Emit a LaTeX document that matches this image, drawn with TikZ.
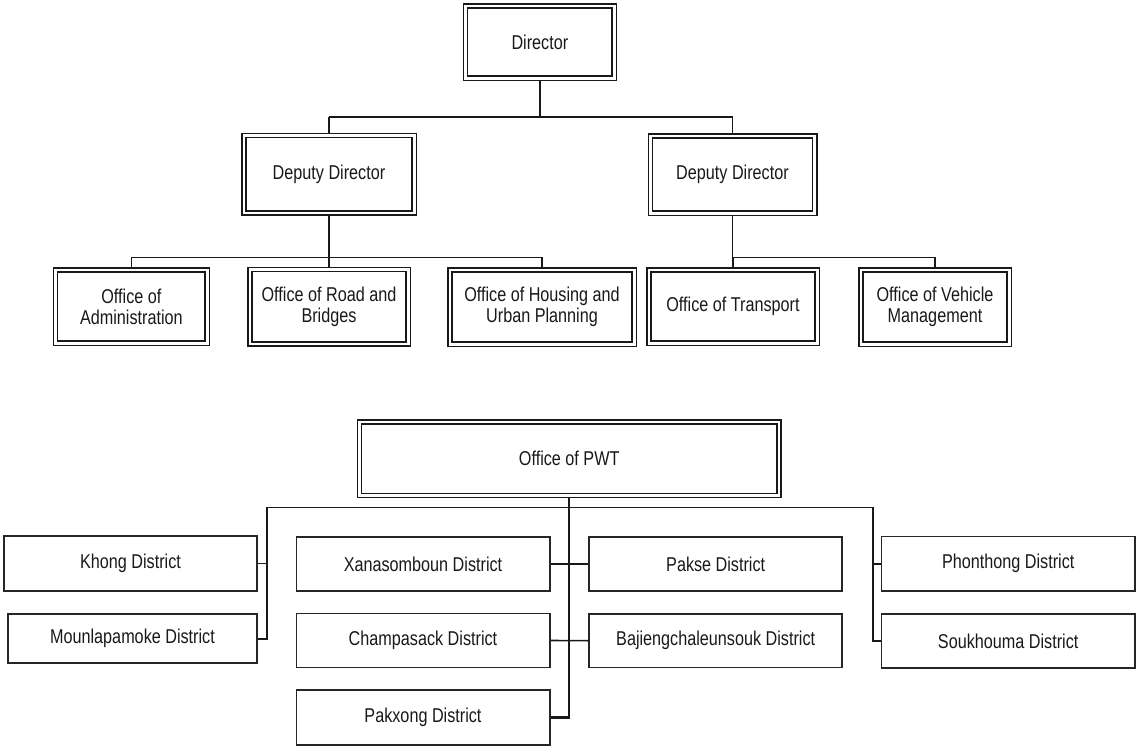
\documentclass[tikz,border=0pt]{standalone}
\usepackage{fontspec}
\setmainfont{Liberation Sans}[FakeStretch=0.81]
\usetikzlibrary{backgrounds}
\begin{document}
\begin{tikzpicture}[x=1pt,y=-1pt,
  txt/.style={inner sep=0pt, align=center, font=\fontsize{20}{20.5}\selectfont, text=black!90},
  dbox/.style={txt, draw=black!90, line width=1.5pt, double=white, double distance=2.6pt, fill=white},
  sbox/.style={txt, draw=black!85, line width=1.6pt, fill=white},
  conn/.style={draw=black!90, line width=1.6pt},
  trunk/.style={draw=black!90, line width=2.3pt}]
\useasboundingbox (0,0) rectangle (1136,747);

% top chart
\node[dbox, minimum width=148.7pt, minimum height=72.4pt] (dir) at (539.9,42) {Director};
\node[dbox, minimum width=170.4pt, minimum height=77.4pt] (dep1) at (329,174.2) {Deputy Director};
\node[dbox, minimum width=164.4pt, minimum height=77.4pt] (dep2) at (732.5,174.5) {Deputy Director};
\node[dbox, minimum width=151.7pt, minimum height=73.1pt] (adm) at (131.4,306.7) {Office of\\Administration};
\node[dbox, minimum width=158.4pt, minimum height=74.4pt] (road) at (329,306.7) {Office of Road and\\Bridges};
\node[dbox, minimum width=184.4pt, minimum height=74.4pt] (hous) at (542,307) {Office of Housing and\\Urban Planning};
\node[dbox, minimum width=168.4pt, minimum height=73.4pt] (trans) at (733,306.5) {Office of Transport};
\node[dbox, minimum width=148.4pt, minimum height=74.4pt] (veh) at (935,307) {Office of Vehicle\\Management};

% bottom chart
\node[dbox, minimum width=419.4pt, minimum height=73.4pt] (pwt) at (569.2,458.8) {Office of PWT};
\node[sbox, minimum width=252.8pt, minimum height=55.1pt] (khong) at (130.5,563.4) {Khong District};
\node[sbox, minimum width=248.8pt, minimum height=49.1pt] (moun) at (132.5,638.7) {Mounlapamoke District};
\node[sbox, minimum width=253.4pt, minimum height=54.4pt] (xana) at (423,564) {Xanasomboun District};
\node[sbox, minimum width=253.4pt, minimum height=54pt] (champ) at (423,640.5) {Champasack District};
\node[sbox, minimum width=253.4pt, minimum height=55.4pt] (pakx) at (423,717.5) {Pakxong District};
\node[sbox, minimum width=253.1pt, minimum height=54.4pt] (pakse) at (715.7,564) {Pakse District};
\node[sbox, minimum width=253.1pt, minimum height=53.9pt] (baj) at (715.7,640.7) {Bajiengchaleunsouk District};
\node[sbox, minimum width=253.4pt, minimum height=54.4pt] (phon) at (1008.2,563.7) {Phonthong District};
\node[sbox, minimum width=253.4pt, minimum height=54.1pt] (souk) at (1008.2,641.1) {Soukhouma District};

\coordinate (bus1) at (0,117);
\coordinate (bus2) at (0,257.3);
\coordinate (lv) at (266.7,507.3);
\coordinate (rv) at (872.7,507.3);

\begin{pgfonlayer}{background}
  % director level
  \draw[trunk] (dir.south) -- (dir.south |- bus1);
  \draw[conn] (dep1.north |- bus1) -- (dep2.north |- bus1);
  \draw[conn] (dep1.north |- bus1) -- (dep1.north);
  \draw[conn] (dep2.north |- bus1) -- (dep2.north);
  % deputy 1
  \draw[conn] (dep1.south) -- (dep1.south |- bus2);
  \draw[conn] (adm.north |- bus2) -- (hous.north |- bus2);
  \draw[conn] (adm.north |- bus2) -- (adm.north);
  \draw[conn] (road.north |- bus2) -- (road.north);
  \draw[conn] (hous.north |- bus2) -- (hous.north);
  % deputy 2
  \draw[conn] (dep2.south) -- (dep2.south |- bus2);
  \draw[conn] (trans.north |- bus2) -- (veh.north |- bus2);
  \draw[conn] (trans.north |- bus2) -- (trans.north);
  \draw[conn] (veh.north |- bus2) -- (veh.north);
  % PWT
  \draw[trunk] (pwt.south) -- (pwt.south |- pakx.east) -- (pakx.east);
  \draw[conn] (lv) -- (rv);
  \draw[conn] (lv) |- (moun.east);
  \draw[conn] (khong.east) -- (khong.east -| lv);
  \draw[conn] (rv) |- (souk.west);
  \draw[conn] (phon.west) -- (phon.west -| rv);
  \draw[conn] (xana.east) -- (pakse.west);
  \draw[conn] (champ.east) -- (baj.west);
\end{pgfonlayer}
\end{tikzpicture}
\end{document}
